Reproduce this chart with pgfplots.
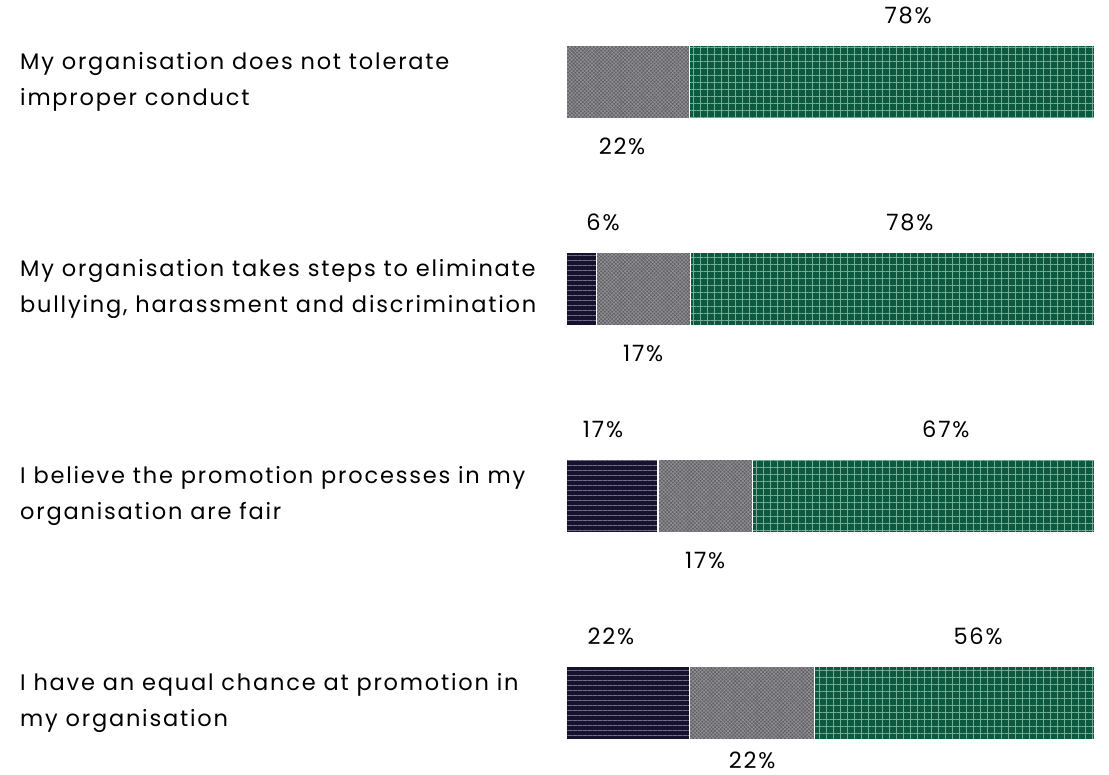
\documentclass[border=0pt]{standalone}
\usepackage{fontspec}
\setmainfont{Poppins}[LetterSpace=8]
\usepackage{pgfplots}
\pgfplotsset{compat=1.18}
\usetikzlibrary{patterns.meta}

\definecolor{navy}{HTML}{16122E}
\definecolor{navyline}{HTML}{706E90}
\definecolor{greybar}{HTML}{606065}
\definecolor{greyline}{HTML}{929297}
\definecolor{greenbar}{HTML}{0B5A40}
\definecolor{greenline}{HTML}{74AC95}

\tikzset{
    navypat/.style={postaction={pattern={Lines[angle=0,distance=5pt,line width=0.7pt]}, pattern color=navyline}},
    greypat/.style={postaction={pattern={Hatch[angle=45,distance=2.6pt,line width=0.6pt]}, pattern color=greyline}},
    greenpat/.style={postaction={pattern={Hatch[angle=0,distance=7pt,line width=0.7pt]}, pattern color=greenline}},
    cat/.style={anchor=west, align=left, inner sep=0pt, font=\fontsize{22.5}{36}\selectfont, xshift=-546pt},
    val/.style={anchor=center, inner sep=0pt, font=\fontsize{22.5}{25}\selectfont},
}

\begin{document}
\begin{tikzpicture}
\useasboundingbox (0,0) rectangle (1109pt,775pt);
\begin{axis}[
    at={(566pt,0pt)}, anchor=south west,
    scale only axis,
    width=529pt, height=775pt,
    xbar stacked,
    bar width=73pt,
    xmin=0, xmax=100,
    ymin=-0.3961, ymax=3.3478,
    y dir=reverse,
    axis lines=none,
    ticks=none,
    clip=false,
]
% disagree
\addplot[fill=navy, draw=white, line width=1.2pt, navypat]
    coordinates {(0,0) (5.7,1) (17.4,2) (23.4,3)};
% neutral
\addplot[fill=greybar, draw=white, line width=1.2pt, greypat]
    coordinates {(23.4,0) (17.8,1) (17.8,2) (23.6,3)};
% agree
\addplot[fill=greenbar, draw=white, line width=1.2pt, greenpat]
    coordinates {(76.6,0) (76.5,1) (64.8,2) (53.0,3)};

% category labels
\node[cat] at (axis cs:0,0) {My organisation does not tolerate\\improper conduct};
\node[cat] at (axis cs:0,1) {My organisation takes steps to eliminate\\bullying, harassment and discrimination};
\node[cat] at (axis cs:0,2) {I believe the promotion processes in my\\organisation are fair};
\node[cat] at (axis cs:0,3) {I have an equal chance at promotion in\\my organisation};

% value labels
\node[val] at (axis cs:64.7,-0.32) {78\%};
\node[val] at (axis cs:10.6,0.31) {22\%};
\node[val] at (axis cs:7.0,0.68) {6\%};
\node[val] at (axis cs:65.0,0.68) {78\%};
\node[val] at (axis cs:14.6,1.31) {17\%};
\node[val] at (axis cs:7.0,1.68) {17\%};
\node[val] at (axis cs:71.8,1.68) {67\%};
\node[val] at (axis cs:26.3,2.31) {17\%};
\node[val] at (axis cs:8.5,2.68) {22\%};
\node[val] at (axis cs:77.9,2.68) {56\%};
\node[val] at (axis cs:35.2,3.275) {22\%};
\end{axis}
\end{tikzpicture}
\end{document}
